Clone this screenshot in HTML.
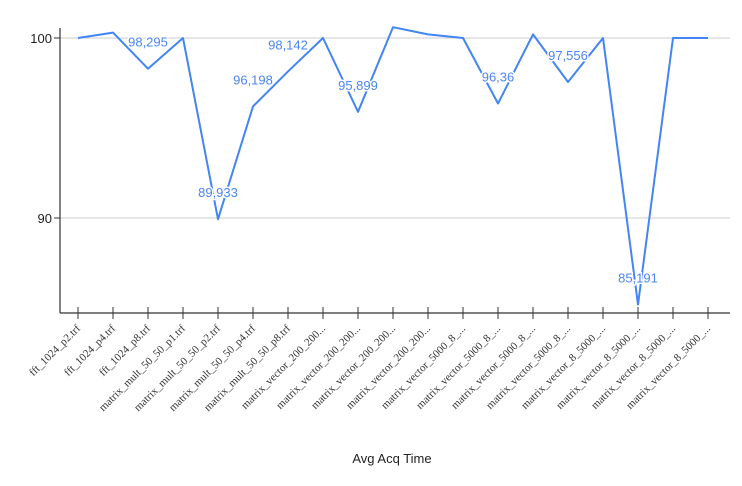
<!DOCTYPE html>
<html><head><meta charset="utf-8"><style>
body{margin:0;background:#fff}
svg{display:block}
</style></head><body>
<svg id="chart" width="742" height="486" xmlns="http://www.w3.org/2000/svg"></svg>
<script>
const categories=["fft_1024_p2.trf","fft_1024_p4.trf","fft_1024_p8.trf","matrix_mult_50_50_p1.trf","matrix_mult_50_50_p2.trf","matrix_mult_50_50_p4.trf","matrix_mult_50_50_p8.trf","matrix_vector_200_200...","matrix_vector_200_200...","matrix_vector_200_200...","matrix_vector_200_200...","matrix_vector_5000_8_...","matrix_vector_5000_8_...","matrix_vector_5000_8_...","matrix_vector_5000_8_...","matrix_vector_8_5000_...","matrix_vector_8_5000_...","matrix_vector_8_5000_...","matrix_vector_8_5000_..."];
const values=[100,100.3,98.295,100,89.933,96.198,98.142,100,95.899,100.6,100.2,100,96.36,100.2,97.556,100,85.191,100,100];
const pointLabels=[null,null,"98,295",null,"89,933","96,198","98,142",null,"95,899",null,null,null,"96,36",null,"97,556",null,"85,191",null,null];
const yTicks=[90,100];
const yTickLabels=["90","100"];

const NS="http://www.w3.org/2000/svg";
const svg=document.getElementById('chart');
const L=60,R=730,T=28,B=313;
const x0=78,dx=35;
function xs(i){return x0+i*dx;}
function ys(v){return 38+(100-v)*18;}
function mk(t,a,p){const e=document.createElementNS(NS,t);for(const k in a)e.setAttribute(k,a[k]);(p||svg).appendChild(e);return e;}

yTicks.forEach((v,i)=>{
  const g=mk('line',{x1:L,x2:R,y1:ys(v),y2:ys(v),stroke:'#cccccc','stroke-width':1});
  
  
  const tk=mk('line',{x1:L-6,x2:L,y1:ys(v),y2:ys(v),stroke:'#333','stroke-width':1});
  
  
  const t=mk('text',{x:L-8,y:ys(v)+5,'text-anchor':'end','font-family':'Liberation Sans, sans-serif','font-size':13,fill:'#222'});
  t.textContent=yTickLabels[i];
  
  
});

const clip=mk('clipPath',{id:'plotclip'});
mk('rect',{x:L,y:0,width:R-L+5,height:B-0},clip);

const pts=values.map((v,i)=>xs(i)+','+ys(v)).join(' ');
const line=mk('polyline',{points:pts,fill:'none',stroke:'#4285f4','stroke-width':2,'stroke-linejoin':'round','clip-path':'url(#plotclip)'});



const ya=mk('line',{x1:L,x2:L,y1:T,y2:B,stroke:'#333','stroke-width':1.2});


const xa=mk('line',{x1:L,x2:R,y1:B,y2:B,stroke:'#333','stroke-width':1.2});



categories.forEach((c,i)=>{
  const tk=mk('line',{x1:xs(i),x2:xs(i),y1:B-6,y2:B+6,stroke:'#333','stroke-width':1});
  
  
  const t=mk('text',{x:xs(i)+3,y:B+16,'text-anchor':'end','font-family':'Liberation Serif, serif','font-size':11,fill:'#333',transform:'rotate(-45 '+(xs(i)+3)+' '+(B+16)+')'});
  t.textContent=c;
  
  
});

pointLabels.forEach((lb,i)=>{
  if(!lb)return;
  const y=ys(values[i])-22;
  const t=mk('text',{x:xs(i),y:y,'text-anchor':'middle','font-family':'Liberation Sans, sans-serif','font-size':13,fill:'#4a86f0',stroke:'#fff','stroke-width':3,'paint-order':'stroke'});
  t.textContent=lb;
  
  
});

const title=mk('text',{x:392,y:463,'text-anchor':'middle','font-family':'Liberation Sans, sans-serif','font-size':13,fill:'#222'});
title.textContent='Avg Acq Time';


</script>
</body></html>
